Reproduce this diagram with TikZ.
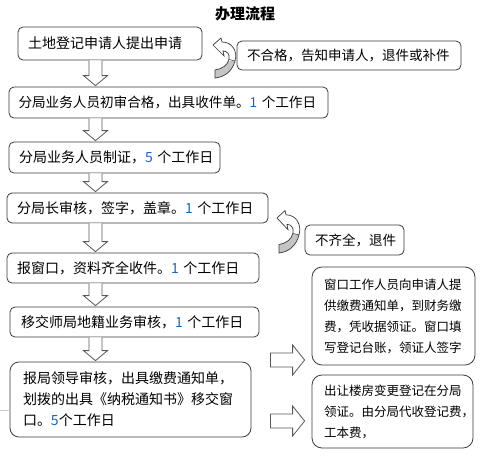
\documentclass[tikz,border=0pt]{standalone}
\usepackage{fontspec}
\setmainfont{Noto Sans CJK SC}
\usetikzlibrary{calc}
\definecolor{edge}{HTML}{3A3A3A}
\definecolor{numblue}{HTML}{1E63B8}
\definecolor{tailgray}{HTML}{C4C4C4}
\newcommand\nb[1]{\textcolor{numblue}{#1}}
\newcommand\uturnpath{(0,0) -- (8,-7) -- (9,-3) .. controls (19,-3) and (25,6) .. (22,16) .. controls (19,27) and (11,32) .. (2,33) -- (2,25) .. controls (9,24) and (15,20) .. (16,14) .. controls (17,9) and (14,6) .. (10,6) -- (11,11) -- cycle}
\newcommand\hdown[2]{%
 \draw[harrow] ($(#1.south -| ac)+(-6.5,0)$) -- ($(#2.north -| ac)+(-6.5,-11)$) -- ($(#2.north -| ac)+(-12,-11)$) -- ($(#2.north -| ac)+(0,-1)$) -- ($(#2.north -| ac)+(12,-11)$) -- ($(#2.north -| ac)+(6.5,-11)$) -- ($(#1.south -| ac)+(6.5,0)$);}
\newcommand\hright[3]{%
 \draw[harrow] ($(#1.east |- 0,#3)+(19,-7)$) -- ($(#2.west |- 0,#3)+(-19,-7)$) -- ($(#2.west |- 0,#3)+(-19,-15)$) -- ($(#2.west |- 0,#3)+(-7,0)$) -- ($(#2.west |- 0,#3)+(-19,15)$) -- ($(#2.west |- 0,#3)+(-19,7)$) -- ($(#1.east |- 0,#3)+(19,7)$) -- cycle;}
\tikzset{
 box/.style={draw=edge, line width=0.8pt, rounded corners=5pt, inner xsep=10pt, inner ysep=0pt, align=left, font=\fontsize{14}{21}\selectfont},
 wbox/.style={box, rounded corners=10pt, inner xsep=12pt, font=\fontsize{12.5}{21}\selectfont},
 harrow/.style={draw=edge!85, line width=0.8pt, fill=white, line join=miter},
 uturn/.pic={
   \fill[white] \uturnpath;
   \begin{scope}
     \clip (-5,16) rectangle (30,40);
     \fill[tailgray] \uturnpath;
   \end{scope}
   \draw[edge, line width=0.7pt] \uturnpath;
   \draw[edge, line width=0.5pt] (16,14.5) .. controls (19,15) and (21,16) .. (22,16);
 }
}
\begin{document}
\begin{tikzpicture}[x=1pt,y=-1pt]
\useasboundingbox (0,0) rectangle (484,459);
\coordinate (ac) at (95.5,0);
\node[font=\fontsize{15}{18}\selectfont\bfseries] (title) at (245,14) {办理流程};
\node[box, minimum width=184pt, minimum height=33pt, text width=164pt] (b1) at (110,43.5) {土地登记申请人提出申请};
\node[box, minimum width=224pt, minimum height=29pt, text width=204pt, font=\fontsize{13.5}{18}\selectfont] (n1) at (349,55.5) {不合格，告知申请人，退件或补件};
\node[box, minimum width=319pt, minimum height=31pt, text width=300pt, font=\fontsize{13.6}{18}\selectfont, inner xsep=9.5pt] (b2) at (168.5,102.5) {分局业务人员初审合格，出具收件单。\nb{1}~个工作日};
\node[box, minimum width=211pt, minimum height=31pt, text width=191pt] (b3) at (114.5,157.5) {分局业务人员制证，\nb{5}~个工作日};
\node[box, minimum width=261pt, minimum height=30pt, text width=241pt] (b4) at (137.5,208) {分局长审核，签字，盖章。\nb{1}~个工作日};
\node[box, minimum width=99pt, minimum height=30pt, text width=79pt, font=\fontsize{13.5}{18}\selectfont] (n2) at (354.5,240) {不齐全，退件};
\node[box, minimum width=252pt, minimum height=30pt, text width=232pt] (b5) at (133,268) {报窗口，资料齐全收件。\nb{1}~个工作日};
\node[box, minimum width=249pt, minimum height=30pt, text width=227pt, inner xsep=11pt] (b6) at (134.5,322) {移交师局地籍业务审核，\nb{1}~个工作日};
\node[wbox, minimum width=163pt, minimum height=98pt, text width=139pt] (w1) at (393.5,316) {窗口工作人员向申请人提\\供缴费通知单，到财务缴\\费，凭收据领证。窗口填\\写登记台账，领证人签字};
\node[box, rounded corners=9pt, minimum width=241pt, minimum height=75pt, text width=215pt, inner xsep=13pt] (b7) at (130.5,399.5) {报局领导审核，出具缴费通知单，\\划拨的出具《纳税通知书》移交窗\\口。\nb{5}个工作日};
\node[wbox, minimum width=161pt, minimum height=73pt, text width=137pt] (w2) at (392.5,411.5) {出让楼房变更登记在分局\\领证。由分局代收登记费，\\工本费，};
\hdown{b1}{b2}
\hdown{b2}{b3}
\hdown{b3}{b4}
\hdown{b4}{b5}
\hdown{b5}{b6}
\hdown{b6}{b7}
\hright{b7}{w1}{360}
\hright{b7}{w2}{421}
\pic at (213,45) {uturn};
\pic[yscale=1.06] at (277,218) {uturn};
\draw[gray!40, line width=0.6pt] (0,410) -- (b7.west |- 0,410);
\end{tikzpicture}
\end{document}
